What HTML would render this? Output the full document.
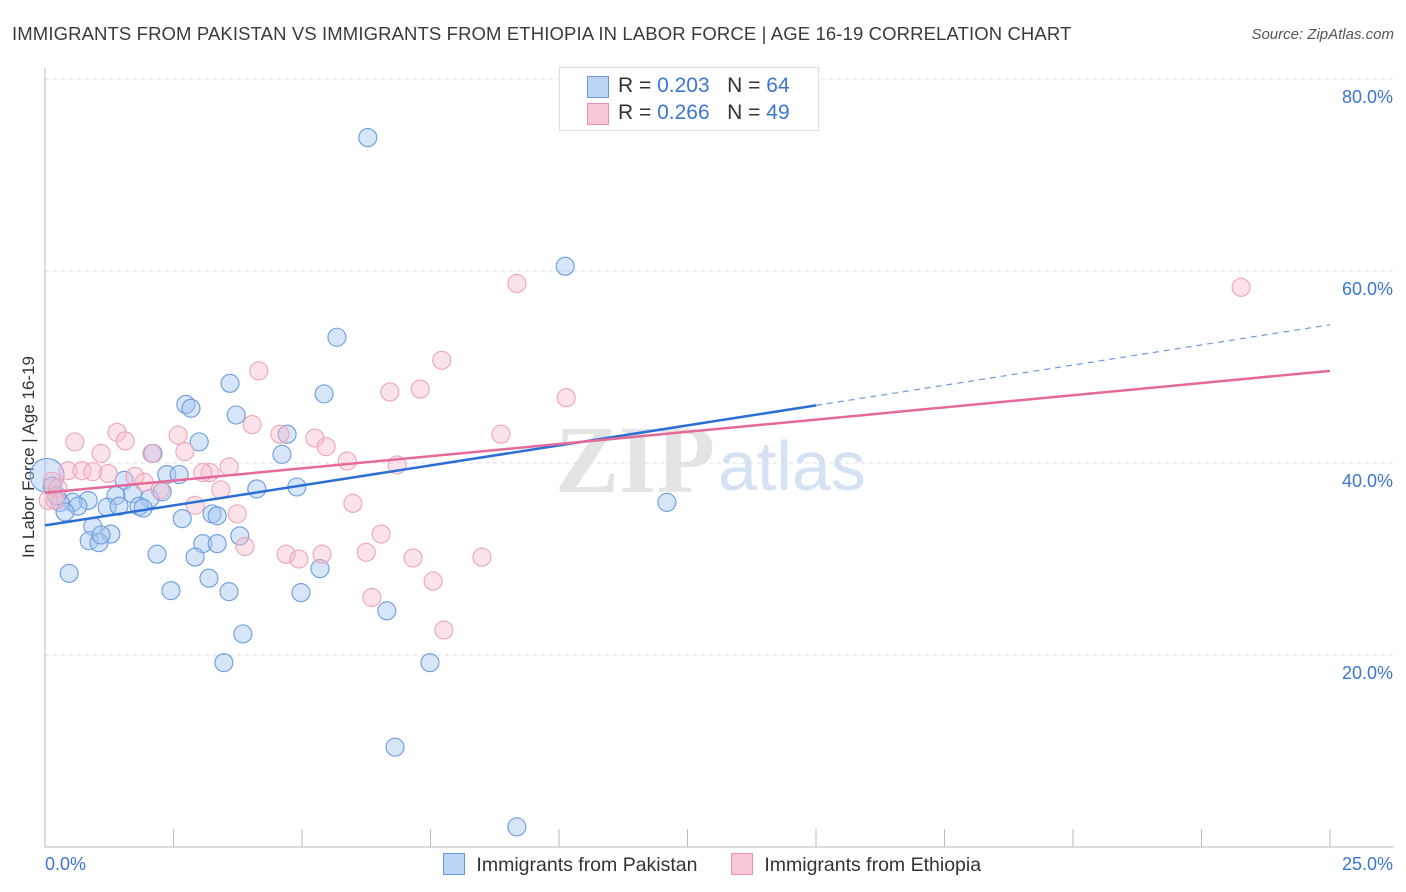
<!DOCTYPE html>
<html><head><meta charset="utf-8">
<style>
body{margin:0;background:#fff;font-family:"Liberation Sans",sans-serif;}
#wrap{position:relative;width:1406px;height:892px;overflow:hidden;}
</style></head>
<body>
<div id="wrap">
<svg id="svg" width="1406" height="892" xmlns="http://www.w3.org/2000/svg">
<text x="12" y="40" font-size="18.5" fill="#3a3a3a" letter-spacing="0.12">IMMIGRANTS FROM PAKISTAN VS IMMIGRANTS FROM ETHIOPIA IN LABOR FORCE | AGE 16-19 CORRELATION CHART</text>
<text x="1394" y="39" font-size="15" fill="#555" font-style="italic" text-anchor="end">Source: ZipAtlas.com</text>
<text transform="translate(34,457) rotate(-90)" font-size="17" fill="#333" text-anchor="middle">In Labor Force | Age 16-19</text>
<text x="555" y="492" font-size="96" fill="#e4e4e4" font-family="Liberation Serif,serif" font-weight="bold">ZIP</text>
<text x="718" y="490" font-size="70" fill="#d4e2f4">atlas</text>
<g id="grid"></g><g id="marks"></g>
</svg>
<div style="position:absolute;left:559px;top:67px;width:258px;height:62px;border:1px solid #ddd;background:rgba(255,255,255,0.9);font-size:21px;color:#333;">
 <div style="position:absolute;left:27px;top:8px;width:20px;height:20px;background:#bcd4f6;border:1px solid #6a9be0"></div>
 <div style="position:absolute;left:58px;top:6px;white-space:nowrap">R = <span style="color:#3a76d2">0.203</span>&nbsp;&nbsp;&nbsp;N = <span style="color:#3a76d2">64</span></div>
 <div style="position:absolute;left:27px;top:35px;width:20px;height:20px;background:#f9c8d6;border:1px solid #e890ae"></div>
 <div style="position:absolute;left:58px;top:33px;white-space:nowrap">R = <span style="color:#3a76d2">0.266</span>&nbsp;&nbsp;&nbsp;N = <span style="color:#3a76d2">49</span></div>
</div>
<div style="position:absolute;left:443px;top:853px;font-size:19.5px;color:#333;white-space:nowrap">
 <span style="display:inline-block;width:20px;height:20px;background:#bcd4f6;border:1px solid #6a9be0;vertical-align:-4px"></span>
 <span style="margin-left:6px">Immigrants from Pakistan</span>
 <span style="display:inline-block;width:20px;height:20px;background:#f9c8d6;border:1px solid #e890ae;vertical-align:-4px;margin-left:28px"></span>
 <span style="margin-left:6px">Immigrants from Ethiopia</span>
</div>
</div>
<script>
const yTicks=[20,40,60,80];
const yTickLabels=["20.0%","40.0%","60.0%","80.0%"];
const xTickVals=[0,2.5,5,7.5,10,12.5,15,17.5,20,22.5,25];
const xEndLabels=["0.0%","25.0%"];
const pakX=[6.28,10.12,5.68,3.6,5.43,2.74,2.84,3.72,2.1,3.0,4.71,4.61,2.37,2.61,1.54,1.7,4.12,4.9,1.38,2.04,2.28,0.84,0.54,0.29,0.64,1.21,1.44,1.83,1.91,0.39,2.67,3.25,3.35,0.93,1.28,0.86,1.05,1.09,3.79,3.07,3.35,2.18,2.92,5.35,0.47,3.19,2.45,3.58,4.98,6.65,3.85,3.48,7.49,6.81,9.18,12.1,0.04,0.14,0.23,13.48];
const pakY=[73.9,60.5,53.1,48.3,47.2,46.1,45.7,45.0,41.0,42.2,43.0,40.9,38.8,38.8,38.2,36.8,37.3,37.5,36.6,36.3,37.0,36.1,35.9,35.9,35.5,35.4,35.5,35.5,35.3,34.9,34.2,34.7,34.5,33.4,32.6,31.9,31.7,32.5,32.4,31.6,31.6,30.5,30.2,29.0,28.5,28.0,26.7,26.6,26.5,24.6,22.2,19.2,19.2,10.4,2.1,35.9,38.7,37.6,36.6,79.0];
const pakR=[9,9,9,9,9,9,9,9,9,9,9,9,9,9,9,9,9,9,9,9,9,9,9,9,9,9,9,9,9,9,9,9,9,9,9,9,9,9,9,9,9,9,9,9,9,9,9,9,9,9,9,9,9,9,9,9,17,9,9,9];
const ethX=[9.18,23.27,7.72,4.16,7.3,6.71,10.14,4.03,1.4,2.59,1.56,4.57,8.87,0.58,5.25,5.47,2.72,1.09,2.08,5.88,6.85,3.58,0.45,0.72,0.93,1.23,3.21,3.07,1.75,1.93,2.24,3.42,0.14,0.25,5.99,2.92,3.74,6.54,3.89,4.69,5.39,4.94,6.25,7.16,8.5,7.55,6.36,7.76,0.06,0.2];
const ethY=[58.7,58.3,50.7,49.6,47.7,47.4,46.8,44.0,43.2,42.9,42.3,43.0,43.0,42.2,42.6,41.7,41.2,41.0,41.0,40.2,39.8,39.6,39.2,39.2,39.1,38.9,39.0,39.0,38.6,38.0,37.2,37.2,38.1,37.4,35.8,35.6,34.7,32.6,31.3,30.5,30.5,30.0,30.7,30.1,30.2,27.7,26.0,22.6,36.1,36.1];
const lineX=[0,25];
const pakFitX=[0,15,25];
const pakFitY=[33.5,46.0,54.4];
const ethFitY=[36.9,49.6];

const X0=45,X1=1330,Y0=847,Y80=79;
const xs=v=>X0+(X1-X0)*v/25;
const ys=v=>Y0-(Y0-Y80)*v/80;
const NS="http://www.w3.org/2000/svg";
const grid=document.getElementById('grid'),marks=document.getElementById('marks');
function mk(tag,attrs,parent){const e=document.createElementNS(NS,tag);for(const k in attrs)e.setAttribute(k,attrs[k]);parent.appendChild(e);return e;}
yTicks.forEach((t,i)=>{
 const l=mk('line',{x1:X0,x2:1394,y1:ys(t),y2:ys(t),stroke:'#ddd','stroke-dasharray':'4,4'},grid);
 
 
 const tx=mk('text',{x:1393,y:ys(t)+24,'font-size':18,fill:'#3a76d2','text-anchor':'end'},grid);
 tx.textContent=yTickLabels[i];
 
 
});
const ax=mk('line',{x1:X0,x2:X0,y1:68,y2:Y0,stroke:'#bbb'},grid);


const bx=mk('line',{x1:X0,x2:1394,y1:Y0,y2:Y0,stroke:'#bbb'},grid);


xTickVals.forEach(v=>{
 const t=mk('line',{x1:xs(v),x2:xs(v),y1:Y0,y2:Y0-18,stroke:'#bbb'},grid);
 
 
});
const xl0=mk('text',{x:45,y:870,'font-size':18,fill:'#3a76d2'},grid);xl0.textContent=xEndLabels[0];


const xl1=mk('text',{x:1393,y:870,'font-size':18,fill:'#3a76d2','text-anchor':'end'},grid);xl1.textContent=xEndLabels[1];


pakX.forEach((x,i)=>{
 const c=mk('circle',{cx:xs(x),cy:ys(pakY[i]),r:pakR[i],fill:'rgba(165,198,240,0.45)',stroke:'#6a9be0','stroke-width':1.1},marks);
 
 
});
ethX.forEach((x,i)=>{
 const c=mk('circle',{cx:xs(x),cy:ys(ethY[i]),r:9,fill:'rgba(248,184,203,0.4)',stroke:'#eea3bb','stroke-width':1.1},marks);
 
 
});
const p1=mk('line',{x1:xs(pakFitX[0]),y1:ys(pakFitY[0]),x2:xs(pakFitX[1]),y2:ys(pakFitY[1]),stroke:'#2a6fd6','stroke-width':2.5},marks);


const p2=mk('line',{x1:xs(pakFitX[1]),y1:ys(pakFitY[1]),x2:xs(pakFitX[2]),y2:ys(pakFitY[2]),stroke:'#6a9be0','stroke-width':1.2,'stroke-dasharray':'6,5'},marks);


const e1=mk('line',{x1:xs(lineX[0]),y1:ys(ethFitY[0]),x2:xs(lineX[1]),y2:ys(ethFitY[1]),stroke:'#e5699a','stroke-width':2.5},marks);


</script>
</body></html>
